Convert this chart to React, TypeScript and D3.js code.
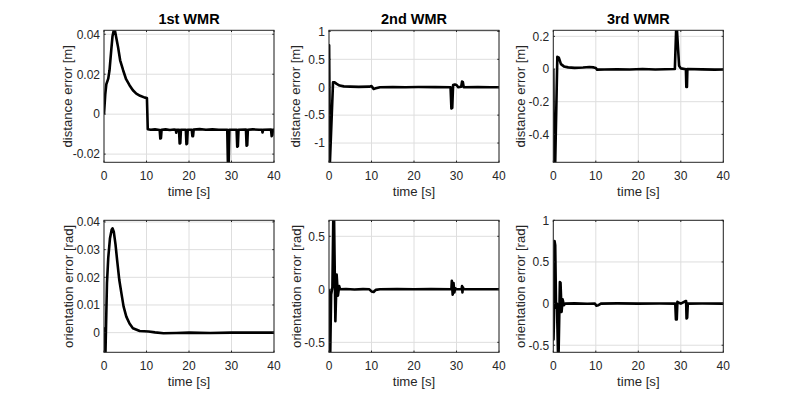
import React from "react";
import * as d3 from "d3";

type Pt = [number, number];

// ---------- data (time [s], value) ----------
const xTicks = [0, 10, 20, 30, 40];
const titles = ["1st WMR", "2nd WMR", "3rd WMR"];
const topLabel = "distance error [m]";
const bottomLabel = "orientation error [rad]";
const xLabel = "time [s]";

const dist1: Pt[] = [
  [0, 0], [0.3, 0.01], [0.55, 0.015], [1.0, 0.0178], [1.3, 0.022], [1.7, 0.032], [2.0, 0.039],
  [2.3, 0.042], [2.6, 0.0415], [3.0, 0.037], [3.3, 0.0337], [3.8, 0.027], [4.5, 0.022],
  [5.2, 0.0175], [6, 0.0145], [6.8, 0.012], [7.6, 0.0103], [8.5, 0.0092], [9.6, 0.0083],
  [10.1, 0.0081], [10.3, -0.0075], [11, -0.0078], [12, -0.0076], [13.1, -0.0079],
  [13.25, -0.0122], [13.4, -0.012], [13.55, -0.0078], [14.5, -0.0076], [15.5, -0.0079],
  [16.5, -0.0077], [16.9, -0.0078], [17.0, -0.0093], [17.15, -0.0078], [17.65, -0.0078],
  [17.8, -0.0147], [17.95, -0.0145], [18.1, -0.0078], [19.25, -0.0078], [19.4, -0.015],
  [19.55, -0.0148], [19.7, -0.0078], [20.65, -0.0078], [20.8, -0.011], [20.95, -0.011],
  [21.1, -0.0077], [22.5, -0.0075], [24, -0.0078], [25.5, -0.0076], [27, -0.0078],
  [29.0, -0.0078], [29.15, -0.0242], [29.35, -0.0242], [29.5, -0.0078], [31.2, -0.0078],
  [31.35, -0.0163], [31.5, -0.016], [31.65, -0.0078], [33.4, -0.0077], [33.55, -0.0158],
  [33.7, -0.0155], [33.85, -0.0078], [35, -0.0076], [36.5, -0.0078], [37.2, -0.0078],
  [37.3, -0.0092], [37.45, -0.0078], [39.3, -0.0077], [39.45, -0.011], [39.6, -0.0105],
  [39.75, -0.0078], [40, -0.0077],
];

const dist2: Pt[] = [
  [0, 0], [0.03, 0.75], [0.22, -1.345], [0.95, 0.09], [1.3, 0.09], [1.8, 0.06], [2.5, 0.03],
  [3.5, 0.015], [5, 0.01], [7, 0.006], [9.5, 0.01], [10, 0.02], [10.5, -0.03], [11, -0.02],
  [12, 0], [15, 0.004], [18, 0], [21, 0.003], [25, 0.001], [28.6, 0], [28.8, -0.38],
  [29.0, -0.37], [29.2, 0.04], [29.6, 0.05], [30, 0.04], [30.4, 0], [31.1, 0.01],
  [31.3, 0.1], [31.5, 0.09], [31.7, 0], [35, 0.003], [38, 0], [40, 0],
];

const dist3: Pt[] = [
  [0, 0], [0.15, -0.571], [0.45, -0.571], [0.95, 0.075], [1.3, 0.07], [1.8, 0.03],
  [2.5, 0.016], [3.5, 0.01], [5, 0.007], [7, 0.009], [8.5, 0.012], [9.5, 0.01], [10, 0.006],
  [10.3, -0.004], [12, -0.003], [15, -0.001], [18, -0.003], [21, 0], [24, -0.003],
  [28.6, 0], [28.9, 0.237], [29.1, 0.237], [29.6, 0.02], [30, 0.004], [31.2, -0.002],
  [31.3, -0.11], [31.45, -0.11], [31.55, 0], [35, -0.002], [38, -0.004], [40, -0.003],
];

const orient1: Pt[] = [
  [0, 0.0015], [0.1, 0.0015], [0.25, -0.0071], [0.35, -0.0071], [0.7, 0.018], [1.0, 0.027],
  [1.4, 0.034], [1.8, 0.0372], [2.0, 0.0377], [2.3, 0.0365], [2.7, 0.032], [3.1, 0.026],
  [3.6, 0.019], [4.1, 0.0142], [4.6, 0.0095], [5.25, 0.0058], [6, 0.0033], [6.8, 0.0016],
  [8.4, 0.0006], [10.5, 0.0004], [12, 0.0001], [14, -0.0002], [17, -0.0001], [20, 0],
  [25, -0.0001], [30, 0], [35, 0], [40, 0],
];

const orient2: Pt[] = [
  [0, 0], [0.1, -0.594], [0.3, -0.594], [0.5, -0.05], [0.8, 0.02], [1.0, 0.651], [1.2, 0.651],
  [1.5, -0.3], [1.8, 0.14], [2.1, -0.06], [2.4, 0.03], [2.6, 0], [4, 0.003], [6, -0.002],
  [8, 0.002], [9.5, 0], [10, -0.02], [10.5, -0.025], [11, -0.005], [12, 0], [16, 0.002],
  [20, 0], [24, 0.002], [28.8, 0], [28.9, 0.08], [29.1, -0.05], [29.3, 0.06], [29.5, -0.03],
  [29.7, 0.01], [30, 0], [31.2, 0], [31.3, 0.03], [31.4, -0.03], [31.5, 0.02], [31.7, 0],
  [36, 0.001], [40, 0],
];

const orient3: Pt[] = [
  [0, 0], [0.05, -0.43], [0.15, -0.2], [0.3, 0.75], [0.45, 0.7], [0.65, -0.05], [0.85, 0.0],
  [1.1, -0.585], [1.25, -0.585], [1.55, 0.26], [1.7, 0.25], [1.95, -0.1], [2.2, 0.05],
  [2.5, -0.02], [2.8, 0], [5, 0.002], [8, -0.002], [9.8, 0], [10.1, -0.025], [10.6, -0.02],
  [11.2, 0], [15, 0.002], [20, 0], [25, 0.001], [28.7, 0], [28.85, -0.19], [29.05, -0.19],
  [29.2, 0.02], [29.5, 0.01], [30, 0], [31.1, 0.03], [31.25, 0.03], [31.35, -0.18],
  [31.5, -0.17], [31.65, 0], [35, 0.001], [40, 0],
];

const yTicks1 = [-0.02, 0, 0.02, 0.04];
const yTicks2 = [-1, -0.5, 0, 0.5, 1];
const yTicks3 = [-0.4, -0.2, 0, 0.2];
const yTicks4 = [0, 0.01, 0.02, 0.03, 0.04];
const yTicks5 = [-0.5, 0, 0.5];
const yTicks6 = [-0.5, 0, 0.5, 1];

const yDomains: [number, number][] = [
  [-0.0241, 0.042], [-1.345, 1.02], [-0.571, 0.237],
  [-0.0071, 0.0406], [-0.594, 0.651], [-0.585, 1.0],
];

// ---------- layout ----------
const colLefts = [104, 329, 553.3];
const rowTops = [30.3, 220.3];
const PW = 170;
const PH = 132;
const ylabelOffsets = [37, 34, 33, 36, 33, 33];
const FONT = "'Liberation Sans', Arial, Helvetica, sans-serif";
const TXT = "#262626";
const GRID = "#dedede";

const fmt = (v: number) => String(v);

function Panel(props: {
  idx: number;
  data: Pt[];
  yTicks: number[];
  yDomain: [number, number];
  title?: string;
  ylabel: string;
  left: number;
  top: number;
}) {
  const { idx, data, yTicks, yDomain, title, ylabel, left, top } = props;
  const x = d3.scaleLinear().domain([0, 40]).range([0, PW]);
  const y = d3.scaleLinear().domain(yDomain).range([PH, 0]);
  const line = d3
    .line<Pt>()
    .x((d) => x(d[0]))
    .y((d) => y(d[1]));
  const clipId = `clip-${idx}`;
  const tl = 1.7;
  return (
    <g transform={`translate(${left},${top})`}>
      <defs>
        <clipPath id={clipId}>
          <rect x={0} y={0} width={PW} height={PH} />
        </clipPath>
      </defs>
      <rect x={0} y={0} width={PW} height={PH} fill="#fff" />
      {xTicks.map((t) => (
        <line key={"gx" + t} x1={x(t)} x2={x(t)} y1={0} y2={PH} stroke={GRID} strokeWidth={1} />
      ))}
      {yTicks.map((t) => (
        <line key={"gy" + t} x1={0} x2={PW} y1={y(t)} y2={y(t)} stroke={GRID} strokeWidth={1} />
      ))}
      <path
        d={line(data) || ""}
        fill="none"
        stroke="#000"
        strokeWidth={2.6}
        strokeLinejoin="round"
        strokeLinecap="butt"
        clipPath={`url(#${clipId})`}
      />
      {xTicks.map((t) => (
        <g key={"tx" + t}>
          <line x1={x(t)} x2={x(t)} y1={PH} y2={PH - tl} stroke={TXT} />
          <line x1={x(t)} x2={x(t)} y1={0} y2={tl} stroke={TXT} />
          <text
            x={x(t)}
            y={PH + 17.5}
            textAnchor="middle"
            fontFamily={FONT}
            fontSize={12}
            fill={TXT}
          >
            {fmt(t)}
          </text>
        </g>
      ))}
      {yTicks.map((t) => (
        <g key={"ty" + t}>
          <line x1={0} x2={tl} y1={y(t)} y2={y(t)} stroke={TXT} />
          <line x1={PW} x2={PW - tl} y1={y(t)} y2={y(t)} stroke={TXT} />
          <text
            x={-4}
            y={y(t) + 4.3}
            textAnchor="end"
            fontFamily={FONT}
            fontSize={12}
            fill={TXT}
          >
            {fmt(t)}
          </text>
        </g>
      ))}
      <rect x={0} y={0} width={PW} height={PH} fill="none" stroke={TXT} strokeWidth={1} />
      <text
        x={PW / 2}
        y={PH + 34}
        textAnchor="middle"
        fontFamily={FONT}
        fontSize={13.2}
        fill={TXT}
      >
        {xLabel}
      </text>
      <text
        transform={`translate(${-ylabelOffsets[idx]},${PH / 2}) rotate(-90)`}
        x={0}
        y={4.5}
        textAnchor="middle"
        fontFamily={FONT}
        fontSize={13.2}
        fill={TXT}
      >
        {ylabel}
      </text>
      {title && (
        <text
          x={PW / 2}
          y={-6.5}
          textAnchor="middle"
          fontFamily={FONT}
          fontSize={14.5}
          fontWeight="bold"
          fill="#000"
        >
          {title}
        </text>
      )}
    </g>
  );
}

export default function App() {
  const series = [dist1, dist2, dist3, orient1, orient2, orient3];
  const ticks = [yTicks1, yTicks2, yTicks3, yTicks4, yTicks5, yTicks6];
  return (
    <svg
      width={800}
      height={400}
      viewBox="0 0 800 400"
      style={{ position: "absolute", left: 0, top: 0, background: "#fff" }}
    >
      <rect x={0} y={0} width={800} height={400} fill="#fff" />
      {series.map((s, i) => {
        const row = Math.floor(i / 3);
        const col = i % 3;
        return (
          <Panel
            key={i}
            idx={i}
            data={s}
            yTicks={ticks[i]}
            yDomain={yDomains[i]}
            title={row === 0 ? titles[col] : undefined}
            ylabel={row === 0 ? topLabel : bottomLabel}
            left={colLefts[col]}
            top={rowTops[row]}
          />
        );
      })}
    </svg>
  );
}
